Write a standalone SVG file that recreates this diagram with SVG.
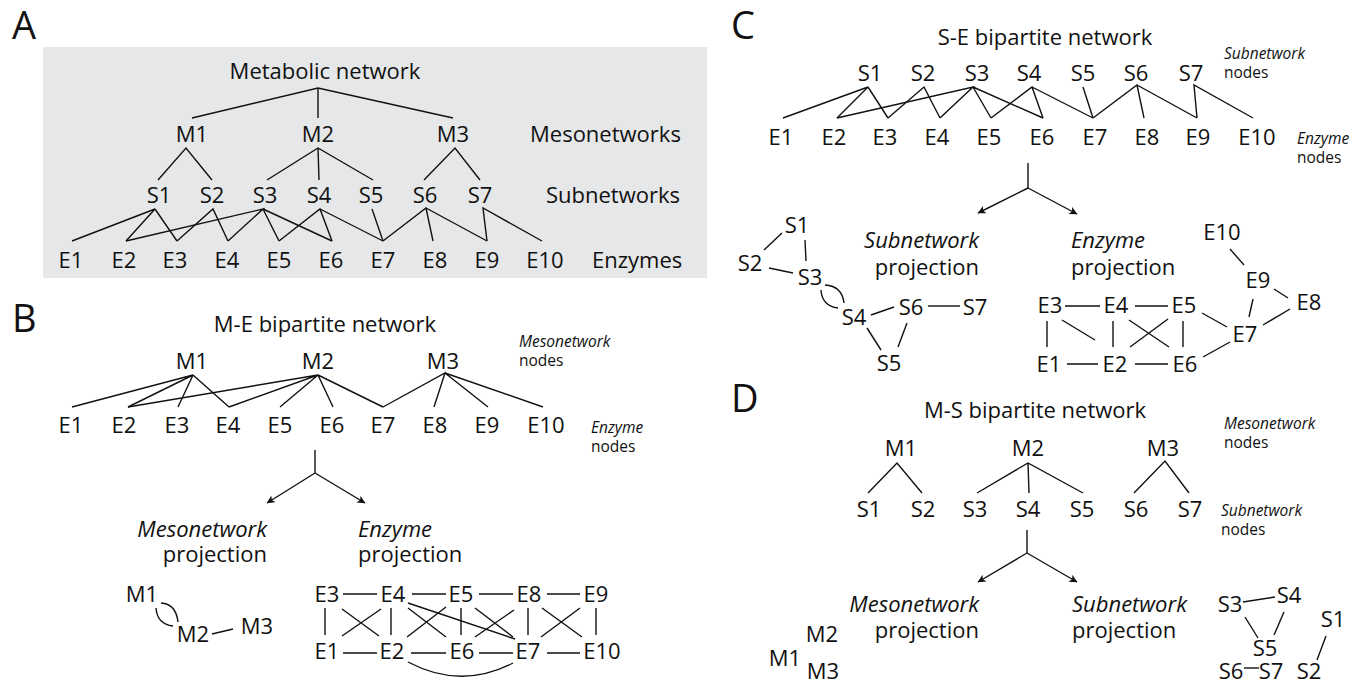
<svg xmlns="http://www.w3.org/2000/svg" width="1368" height="685" viewBox="0 0 1368 685">
  <defs>
    <style>
      text { font-family: "Open Sans", "Noto Sans", "DejaVu Sans", sans-serif; font-size: 22px; fill: #111111; text-anchor: middle; }
      .st { text-anchor: start; }
      .en { text-anchor: end; }
      .it { font-style: italic; }
      .sm { font-size: 15.5px; }
      .letter { font-size: 38px; text-anchor: start; }
      .edges path { stroke: #111111; stroke-width: 1.4; fill: none; }
    </style>
    <marker id="arrow" viewBox="0 0 10 10" refX="9.5" refY="5" markerWidth="11" markerHeight="8" markerUnits="userSpaceOnUse" orient="auto">
      <path d="M0,0 L10,5 L0,10 L2.5,5 z" fill="#111111"/>
    </marker>
  </defs>

  <rect width="1368" height="685" fill="#ffffff"/>

  <!-- ===================== A: hierarchy ===================== -->
  <g id="panel-a">
    <text class="letter" x="12" y="39">A</text>
    <rect x="43" y="47" width="664" height="231" fill="#e6e7e8"/>
    <g class="edges" id="a-edges">
      <path d="M192,118 L318,88 L453,118 M318,88 L318,118"/>
      <path d="M158,180 L186,148 L212,180"/>
      <path d="M267,180 L318,148 L373,180 M318,148 L319,180"/>
      <path d="M424,180 L455,148 L480,180"/>
      <path d="M72,241 L155,209 L126,241 M155,209 L177,241"/>
      <path d="M177,241 L213,209 L228,241"/>
      <path d="M126,241 L263,209 L228,241 M263,209 L279,241 M263,209 L332,241"/>
      <path d="M279,241 L320,209 L332,241 M320,209 L383,241"/>
      <path d="M372,209 L383,241"/>
      <path d="M383,241 L426,208 L433,241 M426,208 L487,241"/>
      <path d="M487,241 L483,208 L542,241"/>
    </g>
    <g id="a-title"><text x="325" y="79">Metabolic network</text></g>
    <g id="a-m1"><text x="192" y="142">M1</text></g>
    <g id="a-m2"><text x="318" y="142">M2</text></g>
    <g id="a-m3"><text x="453" y="142">M3</text></g>
    <g id="a-row-m"><text class="st" x="530" y="142">Mesonetworks</text></g>
    <g id="a-s1"><text x="159" y="203">S1</text></g>
    <g id="a-s2"><text x="212" y="203">S2</text></g>
    <g id="a-s3"><text x="265" y="203">S3</text></g>
    <g id="a-s4"><text x="319" y="203">S4</text></g>
    <g id="a-s5"><text x="371" y="203">S5</text></g>
    <g id="a-s6"><text x="425" y="203">S6</text></g>
    <g id="a-s7"><text x="480" y="203">S7</text></g>
    <g id="a-row-s"><text class="st" x="546" y="203">Subnetworks</text></g>
    <g id="a-e1"><text x="71" y="268">E1</text></g>
    <g id="a-e2"><text x="124" y="268">E2</text></g>
    <g id="a-e3"><text x="175" y="268">E3</text></g>
    <g id="a-e4"><text x="227" y="268">E4</text></g>
    <g id="a-e5"><text x="279" y="268">E5</text></g>
    <g id="a-e6"><text x="331" y="268">E6</text></g>
    <g id="a-e7"><text x="383" y="268">E7</text></g>
    <g id="a-e8"><text x="435" y="268">E8</text></g>
    <g id="a-e9"><text x="487" y="268">E9</text></g>
    <g id="a-e10"><text x="545" y="268">E10</text></g>
    <g id="a-row-e"><text class="st" x="592" y="268">Enzymes</text></g>
  </g>

  <!-- ===================== B: M-E bipartite ===================== -->
  <g id="panel-b">
    <text class="letter" x="12" y="332">B</text>
    <g class="edges" id="b-edges">
      <path d="M72,407 L193,375 L128,407 M193,375 L178,407 M193,375 L229,407"/>
      <path d="M128,407 L318,375 L229,407 M318,375 L280,407 M318,375 L333,407 M318,375 L383,407"/>
      <path d="M383,407 L445,373 L434,407 M445,373 L488,407 M445,373 L543,407"/>
      <!-- projection fork -->
      <path d="M315,450 L315,473"/>
      <path d="M315,473 L267,503" marker-end="url(#arrow)"/>
      <path d="M315,473 L365,503" marker-end="url(#arrow)"/>
      <!-- mesonetwork projection -->
      <path d="M161,603 Q176,604 178,622"/>
      <path d="M156,608 Q157,624 173,626"/>
      <path d="M212,634 L233,629"/>
      <!-- enzyme projection -->
      <path d="M343,594 L377,594 M412,594 L446,594 M479,594 L513,594 M547,594 L580,594"/>
      <path d="M343,653 L377,653 M411,653 L446,653 M479,653 L513,653 M547,653 L580,653"/>
      <path d="M325,608 L325,635 M391,608 L391,635 M461,608 L461,635 M528,608 L528,635 M596,608 L596,635"/>
      <path d="M342,609 L379,636 M342,636 L381,609"/>
      <path d="M408,608 L446,637 M407,637 L446,607"/>
      <path d="M475,608 L513,637 M514,610 L475,637"/>
      <path d="M542,608 L582,637 M580,608 L541,637"/>
      <path d="M408,603 L515,639"/>
      <path d="M408,662 Q461,690 513,663"/>
    </g>
    <g id="b-title"><text x="325" y="332">M-E bipartite network</text></g>
    <g id="b-m1"><text x="192" y="369">M1</text></g>
    <g id="b-m2"><text x="318" y="369">M2</text></g>
    <g id="b-m3"><text x="443" y="369">M3</text></g>
    <g id="b-key-m"><text class="st sm" x="519" y="347"><tspan class="it">Mesonetwork</tspan><tspan x="519" dy="19">nodes</tspan></text></g>
    <g id="b-e1"><text x="71" y="433">E1</text></g>
    <g id="b-e2"><text x="124" y="433">E2</text></g>
    <g id="b-e3"><text x="177" y="433">E3</text></g>
    <g id="b-e4"><text x="228" y="433">E4</text></g>
    <g id="b-e5"><text x="280" y="433">E5</text></g>
    <g id="b-e6"><text x="332" y="433">E6</text></g>
    <g id="b-e7"><text x="383" y="433">E7</text></g>
    <g id="b-e8"><text x="435" y="433">E8</text></g>
    <g id="b-e9"><text x="487" y="433">E9</text></g>
    <g id="b-e10"><text x="546" y="433">E10</text></g>
    <g id="b-key-e"><text class="st sm" x="591" y="433"><tspan class="it">Enzyme</tspan><tspan x="591" dy="19">nodes</tspan></text></g>
    <g id="b-meso-label"><text class="en" x="267" y="537"><tspan class="it">Mesonetwork</tspan><tspan x="267" dy="25">projection</tspan></text></g>
    <g id="b-enz-label"><text class="st" x="358" y="537"><tspan class="it">Enzyme</tspan><tspan x="358" dy="25">projection</tspan></text></g>
    <g id="b-pm1"><text x="142" y="602">M1</text></g>
    <g id="b-pm2"><text x="193" y="642">M2</text></g>
    <g id="b-pm3"><text x="257" y="634">M3</text></g>
    <g id="b-pe3"><text x="327" y="602">E3</text></g>
    <g id="b-pe4"><text x="393" y="602">E4</text></g>
    <g id="b-pe5"><text x="461" y="602">E5</text></g>
    <g id="b-pe8"><text x="529" y="602">E8</text></g>
    <g id="b-pe9"><text x="596" y="602">E9</text></g>
    <g id="b-pe1"><text x="327" y="659">E1</text></g>
    <g id="b-pe2"><text x="392" y="659">E2</text></g>
    <g id="b-pe6"><text x="462" y="659">E6</text></g>
    <g id="b-pe7"><text x="528" y="659">E7</text></g>
    <g id="b-pe10"><text x="602" y="659">E10</text></g>
  </g>

  <!-- ===================== C: S-E bipartite ===================== -->
  <g id="panel-c">
    <text class="letter" x="731" y="39">C</text>
    <g class="edges" id="c-edges">
      <path d="M783,118 L868,87 L837,118 M868,87 L888,118"/>
      <path d="M888,118 L924,87 L940,118"/>
      <path d="M837,118 L973,87 L940,118 M973,87 L991,118 M973,87 L1043,118"/>
      <path d="M991,118 L1032,87 L1043,118 M1032,87 L1093,118"/>
      <path d="M1083,87 L1093,118"/>
      <path d="M1093,118 L1137,85 L1144,118 M1137,85 L1197,118"/>
      <path d="M1197,118 L1194,85 L1253,118"/>
      <!-- projection fork -->
      <path d="M1028,163 L1028,188"/>
      <path d="M1028,188 L978,213" marker-end="url(#arrow)"/>
      <path d="M1028,188 L1077,214" marker-end="url(#arrow)"/>
      <!-- subnetwork projection -->
      <path d="M764,250 L782,233"/>
      <path d="M805,240 L806,261"/>
      <path d="M769,268 L793,273"/>
      <path d="M825,285 Q842,286 844,303"/>
      <path d="M821,290 Q822,306 838,308"/>
      <path d="M871,315 L894,307"/>
      <path d="M928,306 L960,306"/>
      <path d="M867,328 L881,350"/>
      <path d="M907,323 L898,347"/>
      <!-- enzyme projection -->
      <path d="M1230,249 L1244,265"/>
      <path d="M1274,289 L1288,298"/>
      <path d="M1253,299 L1249,317"/>
      <path d="M1290,309 L1263,325"/>
      <path d="M1065,306 L1100,306 M1135,306 L1168,306"/>
      <path d="M1202,313 L1227,327"/>
      <path d="M1047,321 L1047,347 M1113,321 L1113,347 M1183,321 L1183,347"/>
      <path d="M1062,320 L1095,340"/>
      <path d="M1129,320 L1169,347 M1168,319 L1130,347"/>
      <path d="M1067,364 L1098,364 M1135,364 L1168,364"/>
      <path d="M1203,357 L1230,342"/>
    </g>
    <g id="c-title"><text x="1045" y="45">S-E bipartite network</text></g>
    <g id="c-s1"><text x="870" y="81">S1</text></g>
    <g id="c-s2"><text x="923" y="81">S2</text></g>
    <g id="c-s3"><text x="977" y="81">S3</text></g>
    <g id="c-s4"><text x="1029" y="81">S4</text></g>
    <g id="c-s5"><text x="1083" y="81">S5</text></g>
    <g id="c-s6"><text x="1136" y="81">S6</text></g>
    <g id="c-s7"><text x="1191" y="81">S7</text></g>
    <g id="c-key-s"><text class="st sm" x="1224" y="59"><tspan class="it">Subnetwork</tspan><tspan x="1224" dy="19">nodes</tspan></text></g>
    <g id="c-e1"><text x="781" y="145">E1</text></g>
    <g id="c-e2"><text x="834" y="145">E2</text></g>
    <g id="c-e3"><text x="885" y="145">E3</text></g>
    <g id="c-e4"><text x="937" y="145">E4</text></g>
    <g id="c-e5"><text x="989" y="145">E5</text></g>
    <g id="c-e6"><text x="1042" y="145">E6</text></g>
    <g id="c-e7"><text x="1095" y="145">E7</text></g>
    <g id="c-e8"><text x="1147" y="145">E8</text></g>
    <g id="c-e9"><text x="1198" y="145">E9</text></g>
    <g id="c-e10"><text x="1257" y="145">E10</text></g>
    <g id="c-key-e"><text class="st sm" x="1297" y="144"><tspan class="it">Enzyme</tspan><tspan x="1297" dy="19">nodes</tspan></text></g>
    <g id="c-sub-label"><text class="en" x="979" y="248"><tspan class="it">Subnetwork</tspan><tspan x="979" dy="27">projection</tspan></text></g>
    <g id="c-enz-label"><text class="st" x="1071" y="248"><tspan class="it">Enzyme</tspan><tspan x="1071" dy="27">projection</tspan></text></g>
    <g id="c-ps1"><text x="797" y="233">S1</text></g>
    <g id="c-ps2"><text x="750" y="271">S2</text></g>
    <g id="c-ps3"><text x="810" y="285">S3</text></g>
    <g id="c-ps4"><text x="854" y="325">S4</text></g>
    <g id="c-ps6"><text x="911" y="315">S6</text></g>
    <g id="c-ps7"><text x="975" y="315">S7</text></g>
    <g id="c-ps5"><text x="889" y="371">S5</text></g>
    <g id="c-pe10"><text x="1222" y="240">E10</text></g>
    <g id="c-pe9"><text x="1258" y="288">E9</text></g>
    <g id="c-pe8"><text x="1309" y="310">E8</text></g>
    <g id="c-pe3"><text x="1050" y="313">E3</text></g>
    <g id="c-pe4"><text x="1116" y="313">E4</text></g>
    <g id="c-pe5"><text x="1184" y="313">E5</text></g>
    <g id="c-pe7"><text x="1245" y="342">E7</text></g>
    <g id="c-pe1"><text x="1049" y="372">E1</text></g>
    <g id="c-pe2"><text x="1115" y="372">E2</text></g>
    <g id="c-pe6"><text x="1185" y="372">E6</text></g>
  </g>

  <!-- ===================== D: M-S bipartite ===================== -->
  <g id="panel-d">
    <text class="letter" x="731" y="412">D</text>
    <g class="edges" id="d-edges">
      <path d="M868,493 L897,463 L922,493"/>
      <path d="M977,493 L1028,463 L1083,493 M1028,463 L1029,493"/>
      <path d="M1134,493 L1165,461 L1189,493"/>
      <!-- projection fork -->
      <path d="M1027,530 L1027,553"/>
      <path d="M1027,553 L978,582" marker-end="url(#arrow)"/>
      <path d="M1027,553 L1077,582" marker-end="url(#arrow)"/>
      <!-- subnetwork projection -->
      <path d="M1243,602 L1275,597"/>
      <path d="M1245,617 L1258,638"/>
      <path d="M1284,612 L1274,635"/>
      <path d="M1326,636 L1317,660"/>
      <path d="M1244,668 L1259,668"/>
    </g>
    <g id="d-title"><text x="1035" y="418">M-S bipartite network</text></g>
    <g id="d-m1"><text x="901" y="456">M1</text></g>
    <g id="d-m2"><text x="1028" y="456">M2</text></g>
    <g id="d-m3"><text x="1163" y="456">M3</text></g>
    <g id="d-key-m"><text class="st sm" x="1224" y="429"><tspan class="it">Mesonetwork</tspan><tspan x="1224" dy="19">nodes</tspan></text></g>
    <g id="d-s1"><text x="869" y="517">S1</text></g>
    <g id="d-s2"><text x="923" y="517">S2</text></g>
    <g id="d-s3"><text x="975" y="517">S3</text></g>
    <g id="d-s4"><text x="1028" y="517">S4</text></g>
    <g id="d-s5"><text x="1082" y="517">S5</text></g>
    <g id="d-s6"><text x="1136" y="517">S6</text></g>
    <g id="d-s7"><text x="1190" y="517">S7</text></g>
    <g id="d-key-s"><text class="st sm" x="1221" y="516"><tspan class="it">Subnetwork</tspan><tspan x="1221" dy="19">nodes</tspan></text></g>
    <g id="d-meso-label"><text class="en" x="979" y="612"><tspan class="it">Mesonetwork</tspan><tspan x="979" dy="26">projection</tspan></text></g>
    <g id="d-sub-label"><text class="st" x="1072" y="612"><tspan class="it">Subnetwork</tspan><tspan x="1072" dy="26">projection</tspan></text></g>
    <g id="d-pm2"><text x="822" y="642">M2</text></g>
    <g id="d-pm1"><text x="785" y="666">M1</text></g>
    <g id="d-pm3"><text x="823" y="679">M3</text></g>
    <g id="d-ps3"><text x="1230" y="612">S3</text></g>
    <g id="d-ps4"><text x="1289" y="603">S4</text></g>
    <g id="d-ps1"><text x="1333" y="627">S1</text></g>
    <g id="d-ps5"><text x="1265" y="656">S5</text></g>
    <g id="d-ps6"><text x="1231" y="679">S6</text></g>
    <g id="d-ps7"><text x="1271" y="679">S7</text></g>
    <g id="d-ps2"><text x="1309" y="679">S2</text></g>
  </g>
</svg>
